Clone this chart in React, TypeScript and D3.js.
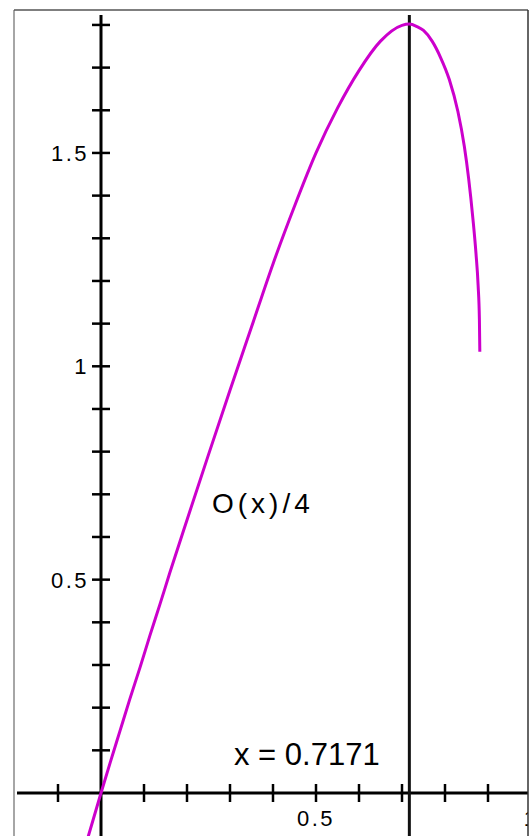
import React, { useRef, useEffect } from 'react';
import * as d3 from 'd3';

// O(x)/4 curve
const curveX = [-0.035, 0, 0.021, 0.044, 0.067, 0.091, 0.114, 0.137, 0.16, 0.2, 0.25, 0.3, 0.35, 0.4, 0.45, 0.5, 0.55, 0.6, 0.65, 0.7, 0.7171, 0.735, 0.75, 0.77, 0.79, 0.81, 0.83, 0.845, 0.855, 0.865, 0.872, 0.877, 0.88, 0.881];
const curveY = [-0.12, 0, 0.07, 0.145, 0.22, 0.295, 0.37, 0.442, 0.516, 0.64, 0.793, 0.944, 1.092, 1.24, 1.375, 1.5, 1.605, 1.693, 1.762, 1.799, 1.802, 1.796, 1.787, 1.762, 1.723, 1.672, 1.597, 1.515, 1.44, 1.345, 1.265, 1.19, 1.11, 1.034];

const xTicks = [-0.1, 0.1, 0.2, 0.3, 0.4, 0.5, 0.6, 0.7, 0.8, 0.9, 1];
const xTickLabels = [0.5, 1];
const yTicks = [0.1, 0.2, 0.3, 0.4, 0.5, 0.6, 0.7, 0.8, 0.9, 1, 1.1, 1.2, 1.3, 1.4, 1.5, 1.6, 1.7, 1.8];
const yTickLabels = [0.5, 1, 1.5];
const markerX = 0.7171;
const curveLabel = 'O(x)/4';

const W = 532;
const H = 836;

const App = () => {
  const ref = useRef(null);

  useEffect(() => {
    const svg = d3.select(ref.current);
    svg.selectAll('*').remove();

    const frame = { left: 14, top: 10, right: 528, bottom: H + 5 };

    const x = d3.scaleLinear().domain([0, 1]).range([101, 531]);
    const y = d3.scaleLinear().domain([0, 1]).range([793, 366.3]);

    svg.append('defs').append('clipPath').attr('id', 'plotclip')
      .append('rect')
      .attr('x', frame.left).attr('y', frame.top)
      .attr('width', frame.right - frame.left).attr('height', frame.bottom - frame.top);

    const g = svg.append('g').attr('clip-path', 'url(#plotclip)');
    const font = '"Liberation Sans", Arial, sans-serif';

    // y axis
    g.append('line')
      .attr('x1', x(0)).attr('x2', x(0))
      .attr('y1', 15).attr('y2', H)
      .attr('stroke', '#000').attr('stroke-width', 3);
    g.selectAll('.ytick').data(yTicks).join('line')
      .attr('x1', x(0) - 9).attr('x2', x(0) + 9)
      .attr('y1', (d) => y(d)).attr('y2', (d) => y(d))
      .attr('stroke', '#000').attr('stroke-width', 2.5);
    g.selectAll('.ylab').data(yTickLabels).join('text')
      .attr('x', x(0) - 12)
      .attr('y', (d) => y(d) + 8)
      .attr('text-anchor', 'end')
      .attr('font-family', font).attr('font-size', 22)
      .attr('letter-spacing', 2.5)
      .text((d) => String(d));

    // x axis
    g.append('line')
      .attr('x1', 17).attr('x2', W)
      .attr('y1', y(0)).attr('y2', y(0))
      .attr('stroke', '#000').attr('stroke-width', 3);
    g.selectAll('.xtick').data(xTicks).join('line')
      .attr('x1', (d) => x(d)).attr('x2', (d) => x(d))
      .attr('y1', y(0) - 9).attr('y2', y(0) + 9)
      .attr('stroke', '#000').attr('stroke-width', 2.5);
    g.selectAll('.xlab').data(xTickLabels).join('text')
      .attr('x', (d) => x(d))
      .attr('y', 826)
      .attr('text-anchor', 'middle')
      .attr('font-family', font).attr('font-size', 22)
      .attr('letter-spacing', 2.5)
      .text((d) => String(d));

    // marker line at the maximum
    g.append('line')
      .attr('x1', x(markerX)).attr('x2', x(markerX))
      .attr('y1', 15).attr('y2', H)
      .attr('stroke', '#111').attr('stroke-width', 3);

    const pts = curveX.map((v, i) => [v, curveY[i]]);
    const line = d3.line()
      .x((d) => x(d[0]))
      .y((d) => y(d[1]))
      .curve(d3.curveMonotoneX);
    g.append('path')
      .datum(pts)
      .attr('fill', 'none')
      .attr('stroke', '#CC00CC')
      .attr('stroke-width', 3)
      .attr('d', line);

    g.append('text')
      .attr('x', 212).attr('y', 513)
      .attr('font-family', font).attr('font-size', 28)
      .attr('letter-spacing', 4)
      .text(curveLabel);

    g.append('text')
      .attr('x', 234).attr('y', 765)
      .attr('font-family', font).attr('font-size', 31)
      .text(`x = ${markerX}`);

    // frame
    svg.append('line').attr('x1', frame.left).attr('x2', frame.left)
      .attr('y1', frame.top).attr('y2', H).attr('stroke', '#888').attr('stroke-width', 1.5);
    svg.append('line').attr('x1', frame.left).attr('x2', frame.right)
      .attr('y1', frame.top).attr('y2', frame.top).attr('stroke', '#555').attr('stroke-width', 1.5);
    svg.append('line').attr('x1', frame.right).attr('x2', frame.right)
      .attr('y1', frame.top).attr('y2', H).attr('stroke', '#333').attr('stroke-width', 1.5);
  }, []);

  return (
    <svg
      ref={ref}
      width={W}
      height={H}
      style={{ position: 'absolute', left: 0, top: 0, background: '#fff' }}
    />
  );
};

export default App;
